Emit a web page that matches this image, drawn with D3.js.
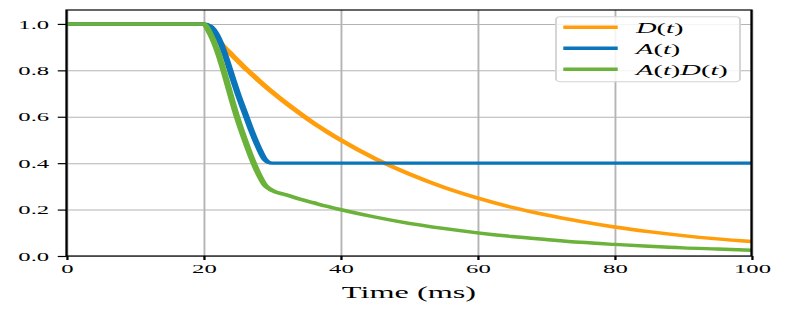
<!DOCTYPE html>
<html lang="en">
<head>
<meta charset="utf-8">
<script src="https://d3js.org/d3.v7.min.js"></script>
<style>
  body { margin: 0; background: #fff; }
  text { font-family: "Liberation Serif", "DejaVu Serif", serif; fill: #000; }
</style>
</head>
<body>
<div id="chart"></div>
<script>
// time axis (ms) and the three curves
var timeMs = [0, 20, 21, 22, 23, 24, 25, 26, 27, 28, 29, 30,
              32, 34, 36, 38, 40, 45, 50, 55, 60, 65, 70, 75, 80, 85, 90, 95, 100];
var dValues = [1, 1, 0.966, 0.933, 0.901, 0.871, 0.841, 0.812, 0.785, 0.758, 0.732, 0.707,
               0.66, 0.616, 0.574, 0.536, 0.5, 0.42, 0.354, 0.297, 0.25, 0.21, 0.177, 0.149, 0.125, 0.105, 0.088, 0.074, 0.0625];
var aValues = [1, 1, 0.99, 0.95, 0.88, 0.79, 0.70, 0.62, 0.54, 0.47, 0.415, 0.40,
               0.4, 0.4, 0.4, 0.4, 0.4, 0.4, 0.4, 0.4, 0.4, 0.4, 0.4, 0.4, 0.4, 0.4, 0.4, 0.4, 0.4];
var adValues = [1, 1, 0.956, 0.886, 0.793, 0.688, 0.589, 0.503, 0.424, 0.356, 0.304, 0.283,
                0.264, 0.246, 0.23, 0.214, 0.2, 0.168, 0.141, 0.119, 0.1, 0.084, 0.071, 0.059, 0.05, 0.042, 0.035, 0.030, 0.025];

var seriesNames = [["D", "t"], ["A", "t"], ["A", "t", "D", "t"]];
var seriesColors = ["#ff9d0a", "#0a75ba", "#6ab23a"];
var xTicks = [0, 20, 40, 60, 80, 100];
var yTicks = [0, 0.2, 0.4, 0.6, 0.8, 1.0];
var xLabel = "Time (ms)";

// the figure is stretched horizontally, so draw in narrow units and scale x
var sx = 1.9;
var width = 788, height = 310;
var plotLeft = 66.5 / sx, plotRight = 751.5 / sx, plotTop = 10, plotBottom = 256;

var svg = d3.select("#chart").append("svg")
  .attr("width", width)
  .attr("height", height);
var g = svg.append("g").attr("transform", "scale(" + sx + ",1)");

var x = d3.scaleLinear().domain([0, 100]).range([plotLeft, plotRight]);
var y = d3.scaleLinear().domain([0, 1.06]).range([plotBottom, plotTop]);

// grid
g.append("g")
  .attr("transform", "translate(0," + plotBottom + ")")
  .call(d3.axisBottom(x).tickValues(xTicks).tickSize(-(plotBottom - plotTop)).tickFormat(""))
  .call(function(s) { s.select(".domain").remove(); })
  .selectAll("line").attr("stroke", "#b4b4b4").attr("stroke-width", 1);
g.append("g")
  .attr("transform", "translate(" + plotLeft + ",0)")
  .call(d3.axisLeft(y).tickValues(yTicks).tickSize(-(plotRight - plotLeft)).tickFormat(""))
  .call(function(s) { s.select(".domain").remove(); })
  .selectAll("line").attr("stroke", "#b4b4b4").attr("stroke-width", 1);

// lines
var allSeries = [dValues, aValues, adValues];
var line = d3.line()
  .x(function(d, i) { return x(timeMs[i]); })
  .y(function(d) { return y(d); })
  .curve(d3.curveMonotoneX);

g.append("g").selectAll("path")
  .data(allSeries)
  .enter().append("path")
  .attr("d", line)
  .attr("fill", "none")
  .attr("stroke", function(d, i) { return seriesColors[i]; })
  .attr("stroke-width", 3.4)
  .attr("stroke-linejoin", "round");

// axes
var xAxis = g.append("g")
  .attr("transform", "translate(0," + plotBottom + ")")
  .call(d3.axisBottom(x).tickValues(xTicks).tickSize(4).tickPadding(3.5).tickFormat(d3.format("d")));
var yAxis = g.append("g")
  .attr("transform", "translate(" + plotLeft + ",0)")
  .call(d3.axisLeft(y).tickValues(yTicks).tickSize(4.6).tickPadding(4.5).tickFormat(d3.format(".1f")));
[xAxis, yAxis].forEach(function(a) {
  a.select(".domain").remove();
  a.selectAll("line").attr("stroke", "#000").attr("stroke-width", 1.2);
  a.selectAll("text")
    .style("font-family", "'Liberation Serif', serif")
    .style("font-size", "13px")
    .attr("fill", "#111");
});

// frame
g.append("rect")
  .attr("x", plotLeft).attr("y", plotTop)
  .attr("width", plotRight - plotLeft).attr("height", plotBottom - plotTop)
  .attr("fill", "none")
  .attr("stroke", "#000")
  .attr("stroke-width", 1.2);

g.append("text")
  .attr("x", (plotLeft + plotRight) / 2)
  .attr("y", 298)
  .attr("text-anchor", "middle")
  .style("font-size", "17px")
  .text(xLabel);

// legend
var lg = g.append("g");
lg.append("rect")
  .attr("x", 556 / sx).attr("y", 16.7)
  .attr("width", 184 / sx).attr("height", 65)
  .attr("rx", 2).attr("ry", 3)
  .attr("fill", "#fff").attr("fill-opacity", 0.85)
  .attr("stroke", "#d4d4d4").attr("stroke-width", 1);

var rows = lg.selectAll(".row")
  .data(seriesNames)
  .enter().append("g")
  .attr("class", "row")
  .attr("transform", function(d, i) { return "translate(0," + (27.3 + i * 21) + ")"; });
rows.append("line")
  .attr("x1", 563.3 / sx).attr("x2", 617.7 / sx)
  .attr("stroke", function(d, i) { return seriesColors[i]; })
  .attr("stroke-width", 3.4);
var label = rows.append("text")
  .attr("x", 636 / sx).attr("y", 5.5)
  .style("font-size", "15px");
label.each(function(parts) {
  var t = d3.select(this);
  for (var k = 0; k < parts.length; k += 2) {
    t.append("tspan").style("font-style", "italic").text(parts[k]);
    t.append("tspan").text("(");
    t.append("tspan").style("font-style", "italic").text(parts[k + 1]);
    t.append("tspan").text(")");
  }
});
</script>
</body>
</html>
